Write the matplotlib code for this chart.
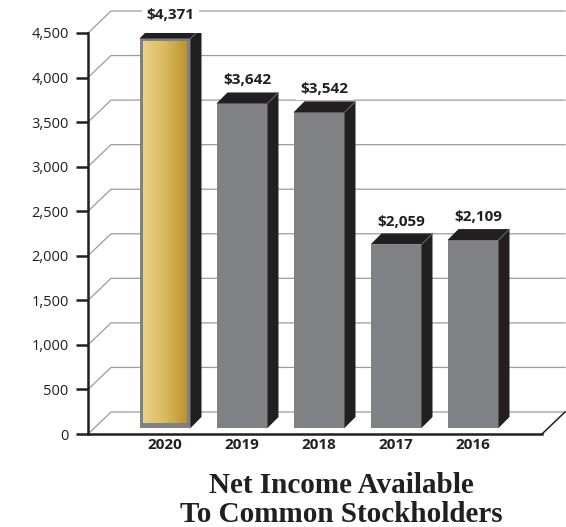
import numpy as np
import matplotlib
matplotlib.use("Agg")
import matplotlib.pyplot as plt
from matplotlib.patches import Rectangle, Polygon
from matplotlib.colors import LinearSegmentedColormap

# Net income available to common stockholders ($ millions)
years = ["2020", "2019", "2018", "2017", "2016"]
income = [4371, 3642, 3542, 2059, 2109]
highlight = "2020"
y_ticks = [0, 500, 1000, 1500, 2000, 2500, 3000, 3500, 4000, 4500]

plt.rcParams['font.family'] = ['Open Sans', 'DejaVu Sans']

DARK = '#231f20'
GRAY = '#808184'
GRID = '#9c9c9e'
gold = LinearSegmentedColormap.from_list('gold', ['#e9d285', '#d8b95e', '#bb952f'])

W, H = 566, 527
fig = plt.figure(figsize=(W / 100, H / 100), dpi=100)

# plot box in pixels: axis at x=88, right edge 565, value 0 at y=434, 4500 at y=33
left, right, bottom, top = 88, 565, 434, 33
ax = fig.add_axes([left / W, (H - bottom) / H, (right - left) / W, (bottom - top) / H])
x_lo, x_hi = -1, (right - left) / 77 - 1
y_lo, y_hi = 0, 4500

# data units per pixel, used for the fake 3d depth
sx = (x_hi - x_lo) / (right - left)
sy = (y_hi - y_lo) / (bottom - top)

floor_dx, floor_dy = 23 * sx, 22 * sy
bar_dx, bar_dy = 11 * sx, 11 * sy
bar_w = 51 * sx
lift = 6 * sy

# back wall grid lines with the slanted floor/left wall edge
for v in y_ticks:
    ax.plot([x_lo, x_lo + floor_dx, x_hi], [v, v + floor_dy, v + floor_dy],
            color=GRID, lw=0.9, clip_on=False, zorder=1)

# right edge of the floor
ax.plot([x_hi - floor_dx, x_hi], [0, floor_dy], color=DARK, lw=1.1,
        clip_on=False, zorder=2)

# bars
for i, (yr, v) in enumerate(zip(years, income)):
    x0 = i - bar_w / 2
    x1 = x0 + bar_w
    b = lift
    t = v + lift
    ax.add_patch(Rectangle((x0, b), bar_w, v, fc=GRAY, ec='none', zorder=3))
    ax.add_patch(Polygon([(x1, b), (x1 + bar_dx, b + bar_dy),
                          (x1 + bar_dx, t + bar_dy), (x1, t)],
                         closed=True, fc=DARK, ec='none', zorder=3))
    ax.add_patch(Polygon([(x0, t), (x0 + bar_dx, t + bar_dy),
                          (x1 + bar_dx, t + bar_dy), (x1, t)],
                         closed=True, fc=DARK, ec='none', zorder=3))
    ax.plot([x1, x1 + bar_dx], [t, t + bar_dy], color='#6d6e71', lw=0.6, zorder=4)
    if yr == highlight:
        grad = np.linspace(0, 1, 128).reshape(1, -1)
        ax.imshow(grad, cmap=gold, aspect='auto', interpolation='bilinear',
                  extent=[x0 + 3 * sx, x1 - 4 * sx, b + 5 * sy, t - 3 * sy], zorder=3.5)
    ax.text(i + bar_dx / 2, t + bar_dy + 8 * sy, f"${v:,}", ha='center', va='baseline',
            fontsize=11, fontweight='bold', color=DARK, zorder=5,
            bbox=dict(fc='white', ec='none', pad=3))

ax.set_xlim(x_lo, x_hi)
ax.set_ylim(y_lo, y_hi)

ax.set_xticks(range(len(years)), years, fontsize=11, fontweight='bold', color=DARK)
ax.set_yticks(y_ticks, [f"{v:,}" for v in y_ticks], fontsize=10.5, color=DARK)
ax.tick_params(axis='x', length=0, pad=3)
ax.tick_params(axis='y', length=9, width=1.8, pad=5, color=DARK)

for s in ['top', 'right']:
    ax.spines[s].set_visible(False)
ax.spines['left'].set_bounds(0, 4500)
ax.spines['left'].set_linewidth(1.8)
ax.spines['left'].set_color(DARK)
ax.spines['bottom'].set_bounds(x_lo, x_hi - floor_dx)
ax.spines['bottom'].set_linewidth(1.8)
ax.spines['bottom'].set_color(DARK)
ax.patch.set_visible(False)

# caption under the chart
fig.text(341 / W, 1 - 493 / H, "Net Income Available", ha='center', va='baseline',
         family=['Liberation Serif'], fontweight='bold', fontsize=21, color=DARK)
fig.text(341 / W, 1 - 522 / H, "To Common Stockholders", ha='center', va='baseline',
         family=['Liberation Serif'], fontweight='bold', fontsize=21, color=DARK)

fig.savefig('out.png', dpi=100)
